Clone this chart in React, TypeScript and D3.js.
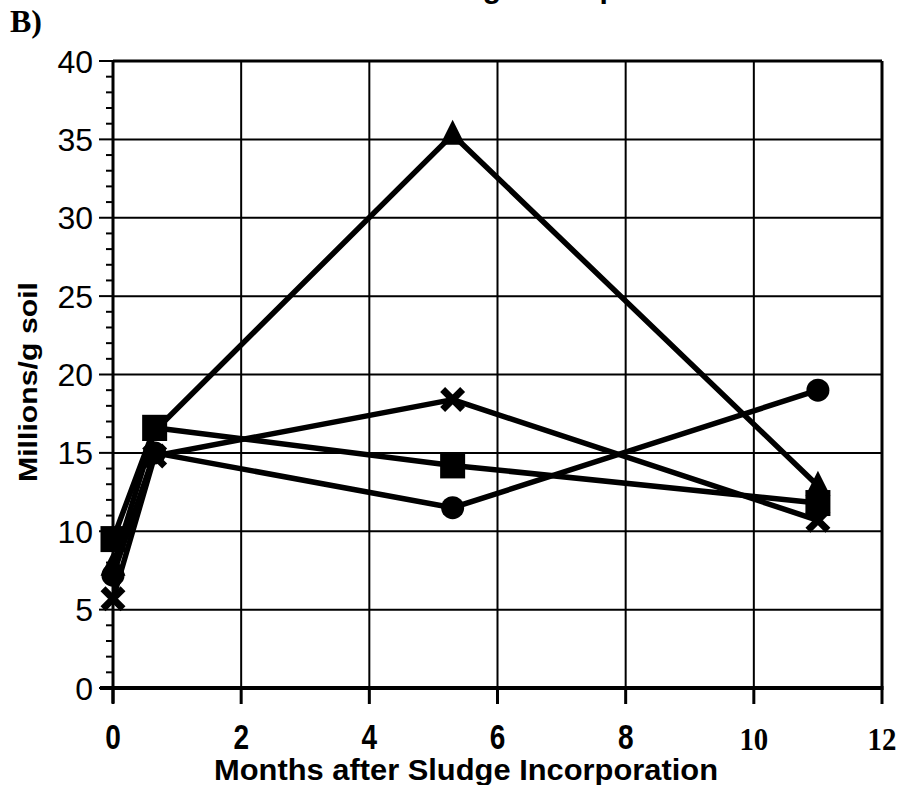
import React from 'react';
import * as d3 from 'd3';

const months = [0, 0.65, 5.3, 11];
const circleSeries = [7.2, 15.0, 11.5, 19.0];
const squareSeries = [9.5, 16.6, 14.2, 11.8];
const triangleSeries = [7.8, 16.4, 35.3, 12.9];
const crossSeries = [5.7, 14.8, 18.4, 10.7];

const xTicks = [0, 2, 4, 6, 8, 10, 12];
const xTickLabels = ['0', '2', '4', '6', '8', '10', '12'];
const yTicks = [0, 5, 10, 15, 20, 25, 30, 35, 40];
const yTickLabels = ['0', '5', '10', '15', '20', '25', '30', '35', '40'];

const titleText = 'Bacteria: Sludge Incorporation';
const panelLabel = 'B)';
const xTitle = 'Months after Sludge Incorporation';
const yTitle = 'Millions/g soil';

const W = 905;
const H = 785;
const left = 113, right = 882, top = 61, bottom = 688;

export default function App() {
  const x = d3.scaleLinear().domain([0, 12]).range([left, right]);
  const y = d3.scaleLinear().domain([0, 40]).range([bottom, top]);
  const line = d3.line<number>().x((_, i) => x(months[i])).y((d) => y(d));
  const minor = d3.range(0, 41, 1).filter((v) => v % 5 !== 0);
  const sans = '"Liberation Sans", Arial, Helvetica, sans-serif';
  const serif = '"Liberation Serif", "Times New Roman", serif';

  const series = [
    { key: 'circle', data: circleSeries },
    { key: 'cross', data: crossSeries },
    { key: 'triangle', data: triangleSeries },
    { key: 'square', data: squareSeries },
  ];

  const marker = (kind: string, cx: number, cy: number, k: string) => {
    if (kind === 'circle') return <circle key={k} cx={cx} cy={cy} r={11.5} fill="#000" />;
    if (kind === 'square') return <rect key={k} x={cx - 12.5} y={cy - 13} width={25} height={26} fill="#000" />;
    if (kind === 'triangle') {
      const s = 12.5;
      return <path key={k} d={`M${cx},${cy - 15}L${cx + s},${cy + 10}L${cx - s},${cy + 10}Z`} fill="#000" />;
    }
    const a = 10;
    return (
      <path key={k} d={`M${cx - a},${cy - a}L${cx + a},${cy + a}M${cx + a},${cy - a}L${cx - a},${cy + a}`}
        stroke="#000" strokeWidth={7} />
    );
  };

  return (
    <svg width={W} height={H} style={{ position: 'absolute', left: 0, top: 0, background: '#fff' }}>
      <rect x={0} y={0} width={W} height={H} fill="#fff" />
      <text x={281} y={-2} fontFamily={sans} fontWeight="bold" fontSize={30}>{titleText}</text>
      <text x={10} y={32} fontFamily={serif} fontWeight="bold" fontSize={32}>{panelLabel}</text>

      {/* gridlines */}
      {xTicks.map((t) => (
        <line key={'gx' + t} x1={x(t)} x2={x(t)} y1={top} y2={bottom} stroke="#000" strokeWidth={2} />
      ))}
      {yTicks.map((t) => (
        <line key={'gy' + t} x1={left} x2={right} y1={y(t)} y2={y(t)} stroke="#000" strokeWidth={2} />
      ))}
      {/* frame */}
      <line x1={left} x2={right} y1={top} y2={top} stroke="#000" strokeWidth={3} />
      <line x1={right} x2={right} y1={top} y2={bottom} stroke="#000" strokeWidth={3} />
      <line x1={left} x2={left} y1={top} y2={bottom + 15} stroke="#000" strokeWidth={3} />
      <line x1={left - 13} x2={right + 1.5} y1={bottom} y2={bottom} stroke="#000" strokeWidth={4} />

      {/* y ticks */}
      {yTicks.map((t) => (
        <line key={'ty' + t} x1={left - 14} x2={left} y1={y(t)} y2={y(t)} stroke="#000" strokeWidth={2} />
      ))}
      {minor.map((t) => (
        <line key={'my' + t} x1={left - 7} x2={left} y1={y(t)} y2={y(t)} stroke="#000" strokeWidth={2} />
      ))}
      {yTicks.map((t, i) => (
        <text key={'ly' + t} x={93} y={y(t) + 11.5} textAnchor="end" fontFamily={sans} fontSize={32}>{yTickLabels[i]}</text>
      ))}

      {/* x ticks */}
      {xTicks.map((t) => (
        <line key={'tx' + t} x1={x(t)} x2={x(t)} y1={bottom} y2={bottom + 16} stroke="#000" strokeWidth={3} />
      ))}
      {xTicks.map((t, i) => {
        const isSerif = t >= 10;
        return (
          <text key={'lx' + t} transform={`translate(${x(t)},${isSerif ? 750 : 749}) scale(${isSerif ? 0.9 : 0.8},1)`} textAnchor="middle"
            fontFamily={isSerif ? serif : sans} fontWeight="bold" fontSize={isSerif ? 32 : 35}>
            {xTickLabels[i]}
          </text>
        );
      })}

      <text x={466} y={780} textAnchor="middle" fontFamily={sans} fontWeight="bold" fontSize={30}
        textLength={504} lengthAdjust="spacingAndGlyphs">{xTitle}</text>
      <text transform={`translate(37,382) rotate(-90)`} textAnchor="middle" fontFamily={sans} fontWeight="bold"
        fontSize={26} textLength={200} lengthAdjust="spacingAndGlyphs">{yTitle}</text>

      {/* series */}
      {series.map((s) => (
        <path key={'l' + s.key} d={line(s.data) || ''} fill="none" stroke="#000" strokeWidth={5.5} strokeLinejoin="round" />
      ))}
      {series.map((s) => s.data.map((v, i) => marker(s.key, x(months[i]), y(v), s.key + i)))}
    </svg>
  );
}
